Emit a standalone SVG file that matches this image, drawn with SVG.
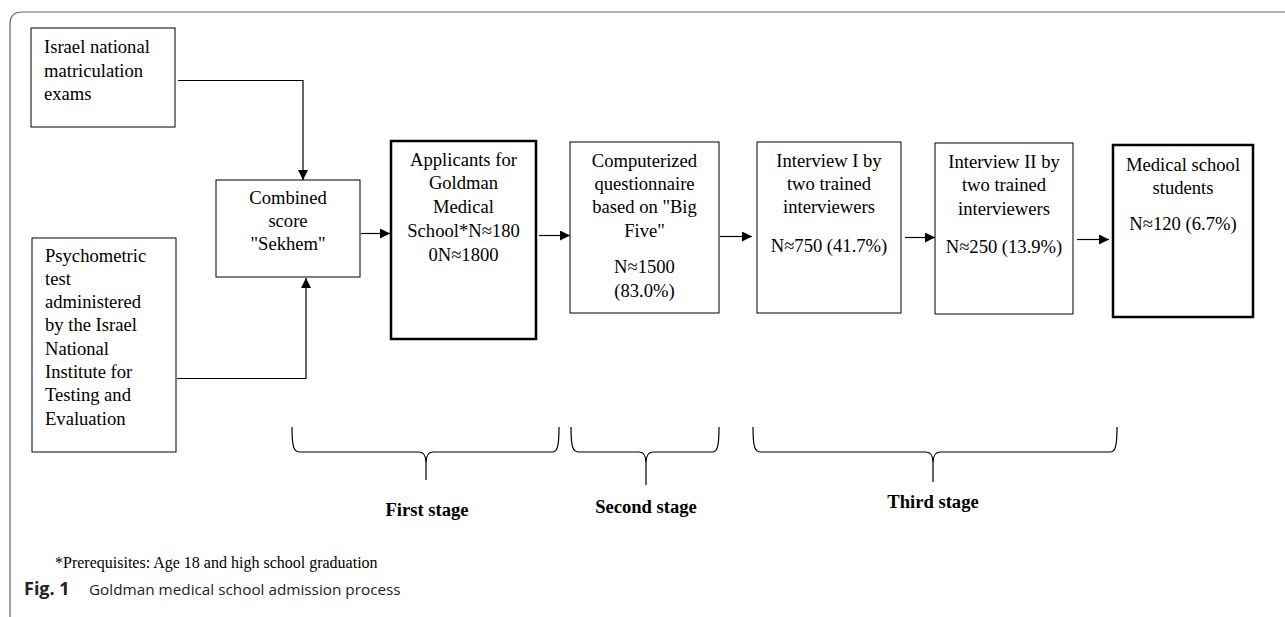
<svg xmlns="http://www.w3.org/2000/svg" width="1285" height="617" viewBox="0 0 1285 617">
<defs>
<marker id="ah" viewBox="0 0 10 10" refX="10" refY="5" markerWidth="10" markerHeight="10" markerUnits="userSpaceOnUse" orient="auto">
<path d="M0,0 L10,5 L0,10 z" fill="#000"/>
</marker>
</defs>
<style>
.box{fill:#fff;stroke:#000;stroke-width:1}
.thick{fill:#fff;stroke:#000;stroke-width:2.5}
.t{font-family:"Liberation Serif","Times New Roman",serif;font-size:18.6px;fill:#000}
.c{text-anchor:middle}
.b{font-weight:bold}
.con{fill:none;stroke:#000;stroke-width:1.2}
.brace{fill:none;stroke:#000;stroke-width:1.2}
.cap{font-family:"Open Sans","Liberation Sans",sans-serif;font-size:15.3px;fill:#222}
</style>
<rect width="1285" height="617" fill="#fff"/>
<path d="M10,640 L10,24 Q10,12 22,12 L1290,12" fill="none" stroke="#666" stroke-width="1.2"/>

<g id="n-israel">
<rect class="box" x="31" y="28" width="144" height="99"/>
<text class="t" x="44" y="53">Israel national</text>
<text class="t" x="44" y="77">matriculation</text>
<text class="t" x="44" y="100">exams</text>
</g>
<g id="n-psych">
<rect class="box" x="32" y="238" width="144" height="214"/>
<text class="t" x="45" y="262">Psychometric</text>
<text class="t" x="45" y="285">test</text>
<text class="t" x="45" y="308">administered</text>
<text class="t" x="45" y="331">by the Israel</text>
<text class="t" x="45" y="355">National</text>
<text class="t" x="45" y="378">Institute for</text>
<text class="t" x="45" y="401">Testing and</text>
<text class="t" x="45" y="425">Evaluation</text>
</g>
<g id="n-combined">
<rect class="box" x="216" y="180" width="144" height="97"/>
<text class="t c" x="288" y="204">Combined</text>
<text class="t c" x="288" y="227">score</text>
<text class="t c" x="288" y="250">"Sekhem"</text>
</g>
<g id="n-applicants">
<rect class="thick" x="391" y="141" width="145" height="198"/>
<text class="t c" x="463.5" y="166">Applicants for</text>
<text class="t c" x="463.5" y="189">Goldman</text>
<text class="t c" x="463.5" y="213">Medical</text>
<text class="t c" x="463.5" y="237">School*N≈180</text>
<text class="t c" x="463.5" y="261">0N≈1800</text>
</g>
<g id="n-computerized">
<rect class="box" x="570" y="142" width="149" height="171"/>
<text class="t c" x="644.5" y="167">Computerized</text>
<text class="t c" x="644.5" y="190">questionnaire</text>
<text class="t c" x="644.5" y="213">based on "Big</text>
<text class="t c" x="644.5" y="237">Five"</text>
<text class="t c" x="644.5" y="273">N≈1500</text>
<text class="t c" x="644.5" y="297">(83.0%)</text>
</g>
<g id="n-interview1">
<rect class="box" x="757" y="142" width="144" height="171"/>
<text class="t c" x="829" y="167">Interview I by</text>
<text class="t c" x="829" y="190">two trained</text>
<text class="t c" x="829" y="213">interviewers</text>
<text class="t c" x="829" y="252">N≈750 (41.7%)</text>
</g>
<g id="n-interview2">
<rect class="box" x="935" y="143" width="138" height="171"/>
<text class="t c" x="1004" y="168">Interview II by</text>
<text class="t c" x="1004" y="191">two trained</text>
<text class="t c" x="1004" y="215">interviewers</text>
<text class="t c" x="1004" y="253">N≈250 (13.9%)</text>
</g>
<g id="n-medical">
<rect class="thick" x="1113" y="145" width="140" height="172"/>
<text class="t c" x="1183" y="171">Medical school</text>
<text class="t c" x="1183" y="194">students</text>
<text class="t c" x="1183" y="230">N≈120 (6.7%)</text>
</g>

<g id="connectors">
<path class="con" d="M178,80.5 L303,80.5 L303,180" marker-end="url(#ah)"/>
<path class="con" d="M177,378.5 L306,378.5 L306,278" marker-end="url(#ah)"/>
<path class="con" d="M361,233.5 L390,233.5" marker-end="url(#ah)"/>
<path class="con" d="M539,235.5 L570,235.5" marker-end="url(#ah)"/>
<path class="con" d="M720,236.5 L752,236.5" marker-end="url(#ah)"/>
<path class="con" d="M905,237.5 L935,237.5" marker-end="url(#ah)"/>
<path class="con" d="M1077,239.5 L1109,239.5" marker-end="url(#ah)"/>
</g>

<g id="braces">
<path class="brace" d="M292,427 C292,448 294,452 300,452 L419,452 C424,452 426,456 426,463 L426,480 M426,463 C426,456 428,452 433,452 L552,452 C557,452 559,448 559,427"/>
<path class="brace" d="M571,427 C571,448 573,452 579,452 L639,452 C644,452 646,456 646,463 L646,485 M646,463 C646,456 648,452 653,452 L712,452 C717,452 719,448 719,427"/>
<path class="brace" d="M753,427 C753,448 755,452 761,452 L926,452 C931,452 933,456 933,463 L933,482 M933,463 C933,456 935,452 940,452 L1110,452 C1115,452 1117,448 1117,427"/>
</g>
<text class="t c b" x="427" y="516">First stage</text>
<text class="t c b" x="646" y="513">Second stage</text>
<text class="t c b" x="933" y="508">Third stage</text>

<text class="t" x="55" y="568" style="font-size:16px">*Prerequisites: Age 18 and high school graduation</text>
<text class="cap" x="24" y="595" style="font-weight:bold;font-size:18px">Fig. 1</text>
<text class="cap" x="89" y="595">Goldman medical school admission process</text>
</svg>
